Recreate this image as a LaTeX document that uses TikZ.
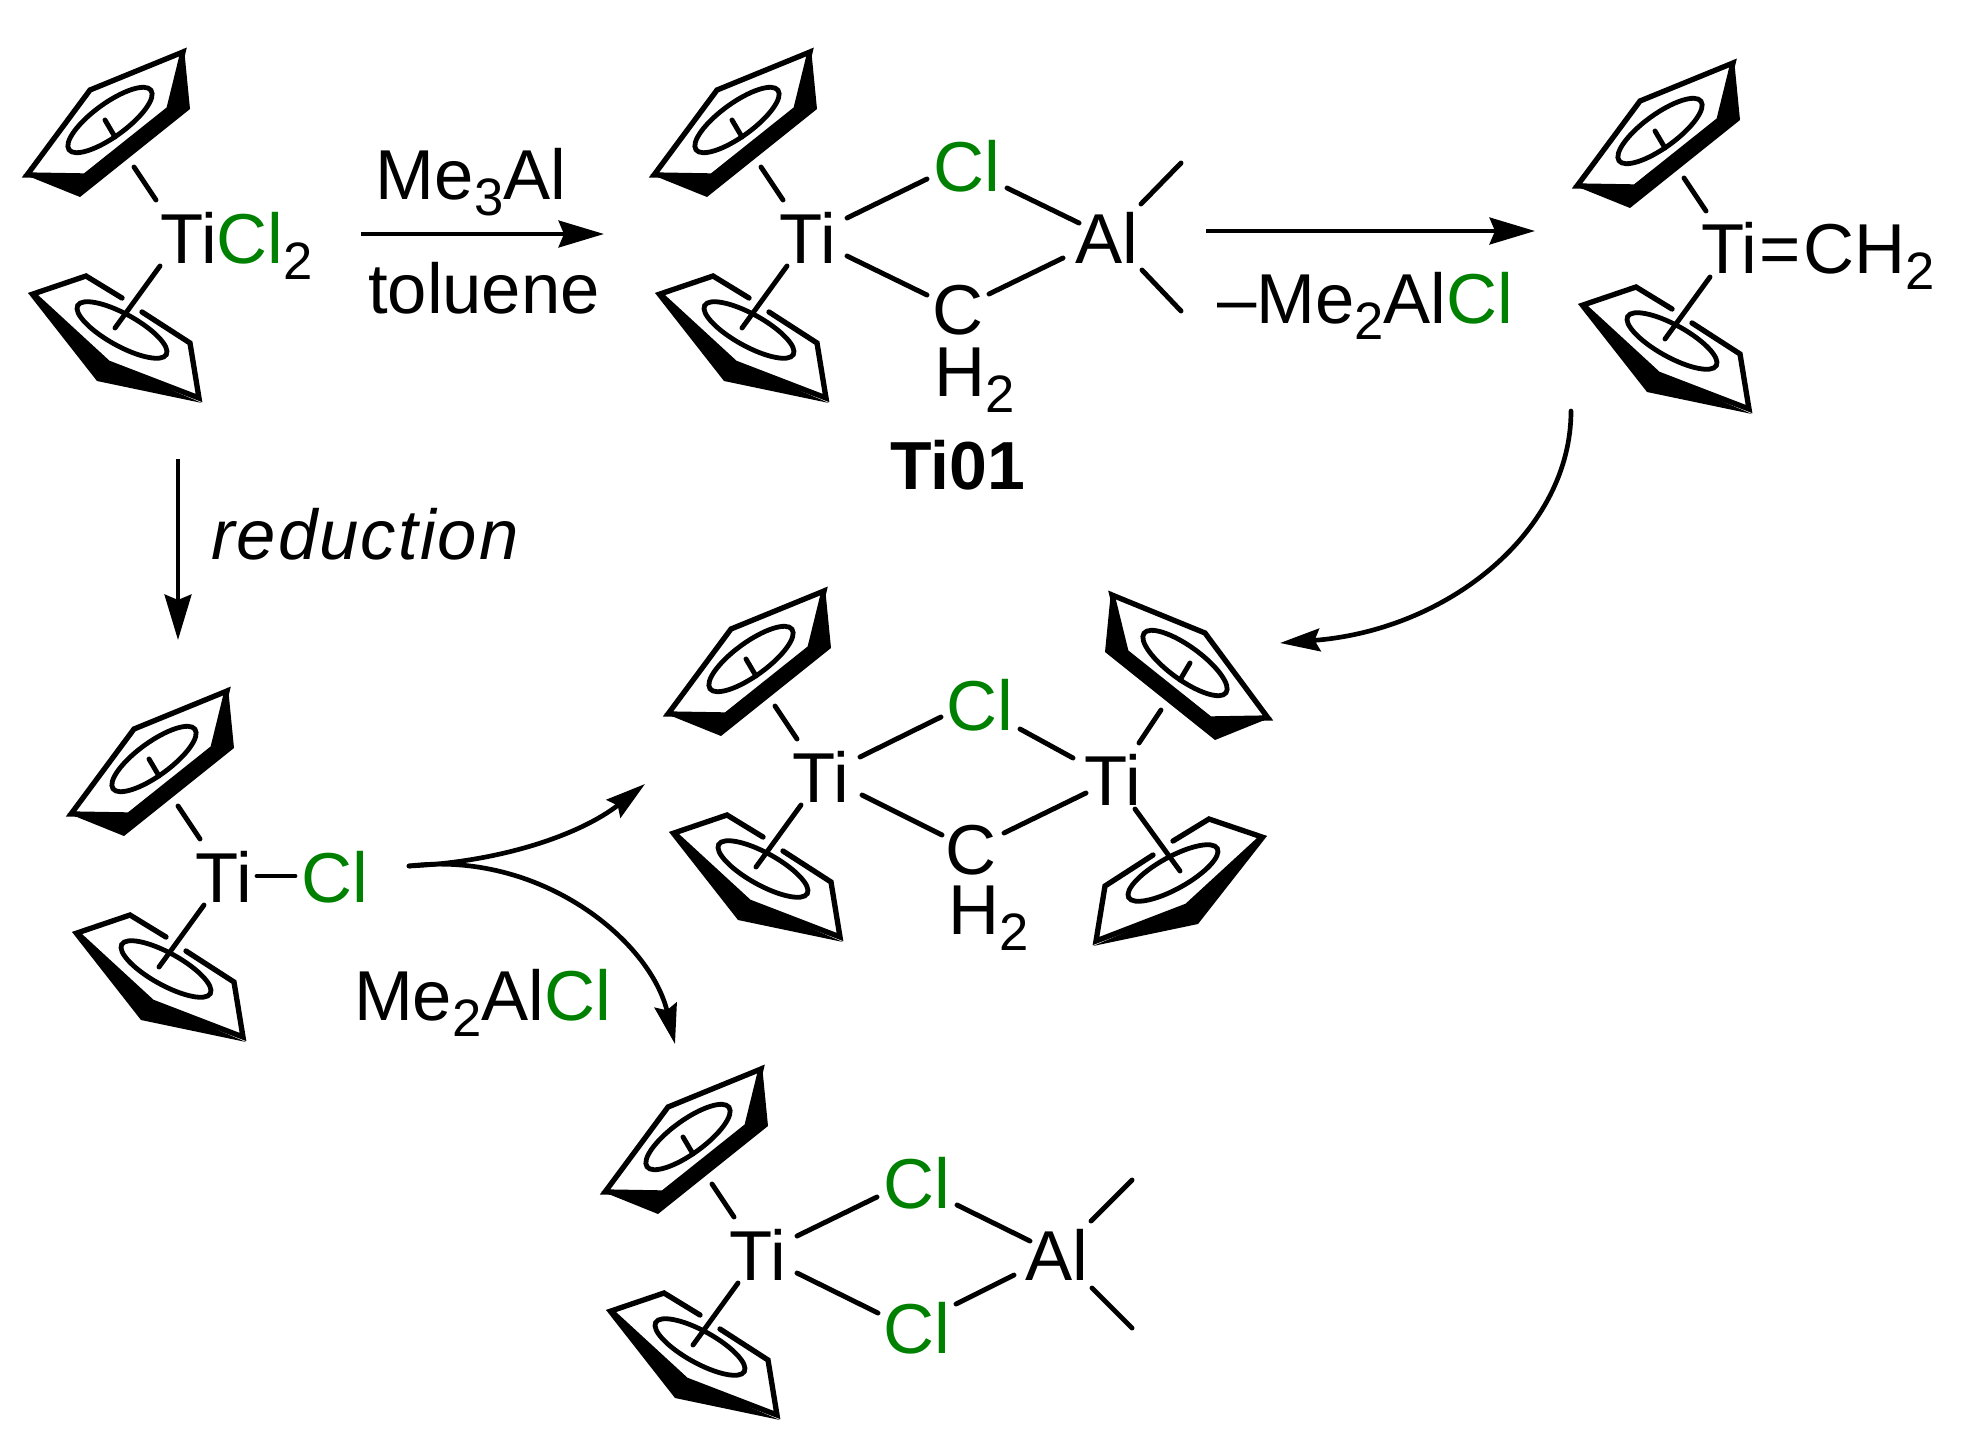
\documentclass[tikz,border=0pt]{standalone}
\usepackage{fontspec}
\setmainfont{Liberation Sans}
\usetikzlibrary{arrows.meta}
\definecolor{clgreen}{RGB}{0,128,0}
\newcommand{\subs}[1]{\raisebox{-12pt}{\fontsize{39.5}{39.5}\selectfont #1}}
\newcommand{\clg}{\textcolor{clgreen}{Cl}}
\tikzset{
  x=0.75pt,y=-0.75pt,
  lbl/.style={inner sep=0pt,outer sep=0pt,font=\fontsize{53}{53}\selectfont},
  atom/.style={lbl,anchor=center},
  txt/.style={lbl,anchor=base west},
  txtc/.style={lbl,anchor=base},
  bond/.style={line width=3.7pt,line cap=round,line join=miter,black},
  rxn/.style={line width=3.6pt,-{Stealth[length=34pt,width=20pt,inset=4pt]}},
  crxn/.style={line width=3.5pt,line cap=round,-{Stealth[length=30pt,width=17pt,inset=4pt]}},
  face/.style={line width=4pt,line join=miter,miter limit=10,line cap=round},
  ring/.style={line width=3.6pt},
}
% #1 scope options, #2 name of the ring anchor
\newcommand{\cpup}[2]{%
  \begin{scope}[shift={(#2)},#1]
    \fill (-165,-64) -- (-103,-64) -- (-19,-131) -- (-4,-190) -- (2,-129) -- (-108,-41) -- cycle;
    \draw[face] (-5,-186) -- (-98,-148) -- (-161,-63) -- (-103,-62) -- (-19,-129) -- cycle;
    \draw[ring,rotate around={36:(-78,-118)}] (-78,-118) ellipse [x radius=38pt,y radius=12.5pt];
    \draw[bond] (-83,-118) -- (-73,-101);
    \draw[bond] (-54,-71) -- (-32,-38);
  \end{scope}}
\newcommand{\cpdown}[2]{%
  \begin{scope}[shift={(#2)},#1]
    \fill (-160,55) -- (-80,125) -- (14,165) -- (-91,143) -- cycle;
    \draw[face] (-66,60) -- (-102,38) -- (-155,56) -- (-80,125) -- (11,160) -- (2,105) -- (-46,74);
    \draw[ring,rotate around={-29:(-66,92)}] (-66,92) ellipse [x radius=38pt,y radius=12pt];
    \draw[bond] (-28,28) -- (-73,90);
  \end{scope}}
\begin{document}
\begin{tikzpicture}
\useasboundingbox (0,0) rectangle (1963,1449);
% --- molecule 1
\coordinate (a1) at (188,238);
\cpup{}{a1}\cpdown{}{a1}
\node[txt] (ticl2) at (160.5,263) {Ti\clg\subs{2}};
% --- reagents 1
\node[txtc] (me3al) at (471,199) {Me\subs{3}Al};
\node[txtc] (tol) at (484,313) {toluene};
\coordinate (r1a) at (361,234); \coordinate (r1b) at (604,234);
\draw[rxn] (r1a) -- (r1b);
% --- molecule 2
\coordinate (a2) at (815,238);
\cpup{}{a2}\cpdown{}{a2}
\node[atom] (ti2) at (808,238) {Ti};
\node[atom] (cl2) at (967,166) {\clg};
\node[atom] (al2) at (1107,238) {Al};
\node[atom] (c2) at (958.5,310) {C};
\node[txt] (h2) at (934,396) {H\subs{2}};
\node[txtc] (ti01) at (958,489) {\fontsize{51}{51}\selectfont\bfseries Ti01};
\draw[bond] ([shift={(39,-20)}]ti2.center) -- ([shift={(-40,13)}]cl2.center);
\draw[bond] ([shift={(40,22)}]cl2.center) -- ([shift={(-28,-15)}]al2.center);
\draw[bond] ([shift={(39,18)}]ti2.center) -- ([shift={(-31.5,-15)}]c2.center);
\draw[bond] ([shift={(30.5,-16)}]c2.center) -- ([shift={(-44,20)}]al2.center);
\coordinate (me2a) at (1181,163); \coordinate (me2b) at (1181,311);
\draw[bond] ([shift={(34,-34)}]al2.center) -- (me2a);
\draw[bond] ([shift={(35,32)}]al2.center) -- (me2b);
% --- arrow 2
\coordinate (r2a) at (1206,231); \coordinate (r2b) at (1535,231);
\draw[rxn] (r2a) -- (r2b);
\node[txt] (me2alcl1) at (1217,323) {–Me\subs{2}Al\clg};
% --- molecule 3
\coordinate (a3) at (1738,249);
\cpup{}{a3}\cpdown{}{a3}
\node[txt] (tich2) at (1701,273) {Ti\kern2pt=\kern2ptCH\subs{2}};
% --- curved arrow to dimer
\coordinate (r3a) at (1571,411); \coordinate (r3b) at (1280,643);
\draw[crxn] (r3a) .. controls (1571,530) and (1450,630) .. (r3b);
% --- reduction
\coordinate (r4a) at (178,459); \coordinate (r4b) at (178,640);
\draw[rxn] (r4a) -- (r4b);
\node[txt] (redu) at (211,559) {\addfontfeature{LetterSpace=3}\itshape reduction};
% --- molecule 4
\coordinate (a4) at (232,877);
\cpup{}{a4}\cpdown{}{a4}
\node[atom] (ti4) at (224,877) {Ti};
\node[atom] (cl4) at (335,877) {\clg};
\draw[bond] ([shift={(33,-1)}]ti4.center) -- ([shift={(-40,-1)}]cl4.center);
% --- branching arrows
\coordinate (r5) at (409,866); \coordinate (r5b) at (645,784); \coordinate (r5c) at (675,1044);
\draw[crxn] (r5) .. controls (500,862) and (580,835) .. (r5b);
\draw[crxn] (r5) .. controls (540,850) and (650,940) .. (r5c);
\node[txt] (me2alcl2) at (354,1020) {Me\subs{2}Al\clg};
% --- molecule 5 (dimer)
\coordinate (a5) at (829,777); \coordinate (a5r) at (1107,781);
\cpup{}{a5}\cpdown{}{a5}
\cpup{xscale=-1}{a5r}\cpdown{xscale=-1}{a5r}
\node[atom] (ti5) at (821,777) {Ti};
\node[atom] (ti5r) at (1113,780) {Ti};
\node[atom] (cl5) at (980,705) {\clg};
\node[atom] (c5) at (971.5,850) {C};
\node[txt] (h5) at (948,934) {H\subs{2}};
\draw[bond] ([shift={(39,-20)}]ti5.center) -- ([shift={(-39,12)}]cl5.center);
\draw[bond] ([shift={(40,24)}]cl5.center) -- ([shift={(-40,-22)}]ti5r.center);
\draw[bond] ([shift={(41,18)}]ti5.center) -- ([shift={(-29.5,-15)}]c5.center);
\draw[bond] ([shift={(32.5,-17)}]c5.center) -- ([shift={(-27,13)}]ti5r.center);
% --- molecule 6
\coordinate (a6) at (766,1255);
\cpup{}{a6}\cpdown{}{a6}
\node[atom] (ti6) at (758,1255) {Ti};
\node[atom] (cl6a) at (917,1183) {\clg};
\node[atom] (cl6b) at (917,1328) {\clg};
\node[atom] (al6) at (1057,1255) {Al};
\draw[bond] ([shift={(39,-19)}]ti6.center) -- ([shift={(-40,14)}]cl6a.center);
\draw[bond] ([shift={(40,22)}]cl6a.center) -- ([shift={(-27,-14)}]al6.center);
\draw[bond] ([shift={(39,18)}]ti6.center) -- ([shift={(-39,-15)}]cl6b.center);
\draw[bond] ([shift={(39,-24)}]cl6b.center) -- ([shift={(-43,20)}]al6.center);
\coordinate (me6a) at (1132,1180); \coordinate (me6b) at (1132,1328);
\draw[bond] ([shift={(34,-34)}]al6.center) -- (me6a);
\draw[bond] ([shift={(35,33)}]al6.center) -- (me6b);
\end{tikzpicture}
\end{document}
